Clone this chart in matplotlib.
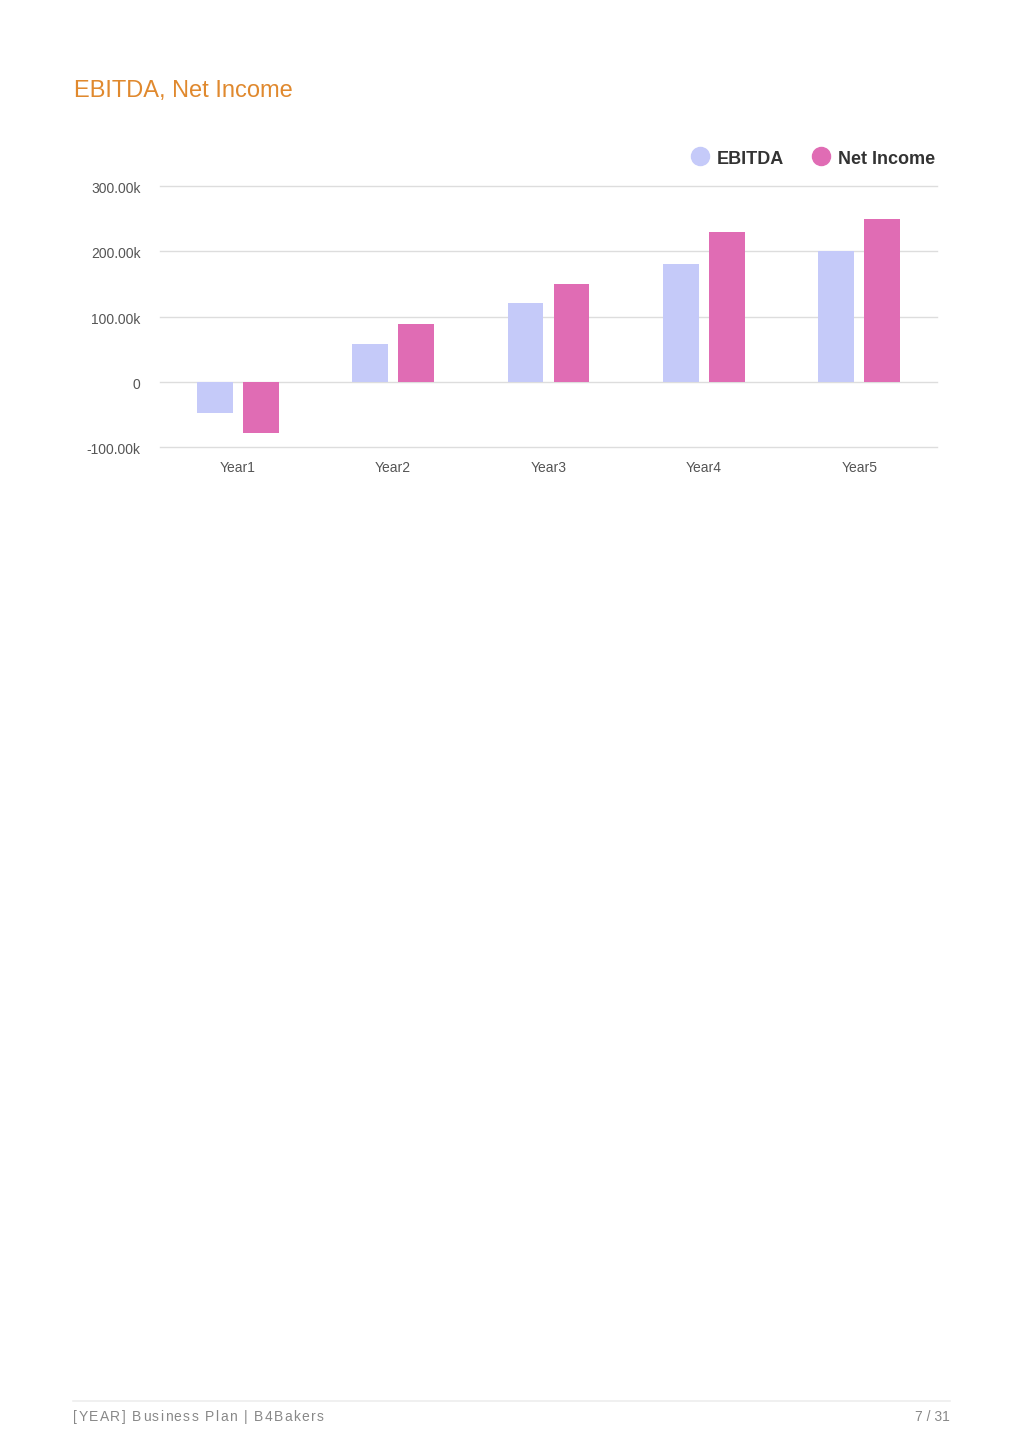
import matplotlib.pyplot as plt
import matplotlib.transforms as mtransforms
import numpy as np

# chart data
years = ['Year1', 'Year2', 'Year3', 'Year4', 'Year5']
ebitda = [-48000, 58000, 120000, 180000, 200000]
net_income = [-79000, 88000, 150000, 230000, 250000]
y_ticks = [-100000, 0, 100000, 200000, 300000]
y_tick_labels = ['-100.00k', '0', '100.00k', '200.00k', '300.00k']

EBITDA_COLOR = '#C5CAF9'
NET_COLOR = '#E06CB4'

plt.rcParams['font.family'] = ['Liberation Sans', 'DejaVu Sans']

W, H = 1024, 1449
fig = plt.figure(figsize=(W / 100, H / 100), dpi=100)


def spaced_text(x_px, y_px, text, spacing_px, **kw):
    """Draw text char by char with extra letter spacing (pixel coords)."""
    renderer = fig.canvas.get_renderer()
    x = x_px
    for ch in text:
        t = fig.text(x / W, 1 - y_px / H, ch, va='center', ha='left', **kw)
        w = t.get_window_extent(renderer).width
        if ch == ' ':
            probe = fig.text(0, 0, 'a a', **kw)
            probe2 = fig.text(0, 0, 'aa', **kw)
            w = probe.get_window_extent(renderer).width - probe2.get_window_extent(renderer).width
            probe.remove()
            probe2.remove()
        x += w + spacing_px


# plot area in pixel coordinates from the reference
left, right, top, bottom = 160, 937, 186, 447
ax = fig.add_axes([left / W, 1 - bottom / H, (right - left) / W, (bottom - top) / H])

x = np.arange(len(years))
bar_w = 0.23
offset = 0.148
ax.bar(x - offset, ebitda, width=bar_w, color=EBITDA_COLOR, zorder=3)
ax.bar(x + offset, net_income, width=bar_w, color=NET_COLOR, zorder=3)

ax.set_xlim(-0.5, len(years) - 0.5)
ax.set_ylim(-100000, 300000)
ax.set_yticks(y_ticks)
ax.set_yticklabels(y_tick_labels)
ax.set_xticks(x)
ax.set_xticklabels(years)
ax.tick_params(axis='both', length=0, labelsize=10, colors='#555555')
ax.tick_params(axis='y', pad=14)
ax.tick_params(axis='x', pad=10)
shift_down = mtransforms.ScaledTranslation(0, -3 / 100, fig.dpi_scale_trans)
for lbl in ax.get_yticklabels():
    lbl.set_verticalalignment('center')
    lbl.set_transform(lbl.get_transform() + shift_down)
ax.grid(axis='y', color='#dddddd', linewidth=1, zorder=0)
for gl in ax.get_ygridlines():
    gl.set_clip_on(False)
for s in ax.spines.values():
    s.set_visible(False)

# title
fig.text(74 / W, 1 - 91 / H, 'EBITDA, Net Income', color='#E0892E',
         fontsize=17, va='center', ha='left')

# legend (drawn manually to match positions)
for cx, label, color in [(700, 'EBITDA', EBITDA_COLOR), (821, 'Net Income', NET_COLOR)]:
    fig.add_artist(plt.Line2D([cx / W], [1 - 156 / H], marker='o', markersize=13,
                              markerfacecolor=color, markeredgecolor=color,
                              linestyle='none'))
    fig.text((cx + 17) / W, 1 - 159 / H, label, fontsize=13, fontweight='bold',
             color='#333333', va='center', ha='left')

# footer
fig.add_artist(plt.Line2D([73 / W, 950 / W], [1 - 1401 / H, 1 - 1401 / H],
                          color='#eeeeee', linewidth=1.2))
spaced_text(73, 1417, '[YEAR] Business Plan | B4Bakers', 1.4, fontsize=10,
            color='#888888')
fig.text(950 / W, 1 - 1417 / H, '7 / 31', fontsize=10, color='#888888',
         va='center', ha='right')

fig.savefig('out.png', dpi=100, facecolor='white')
